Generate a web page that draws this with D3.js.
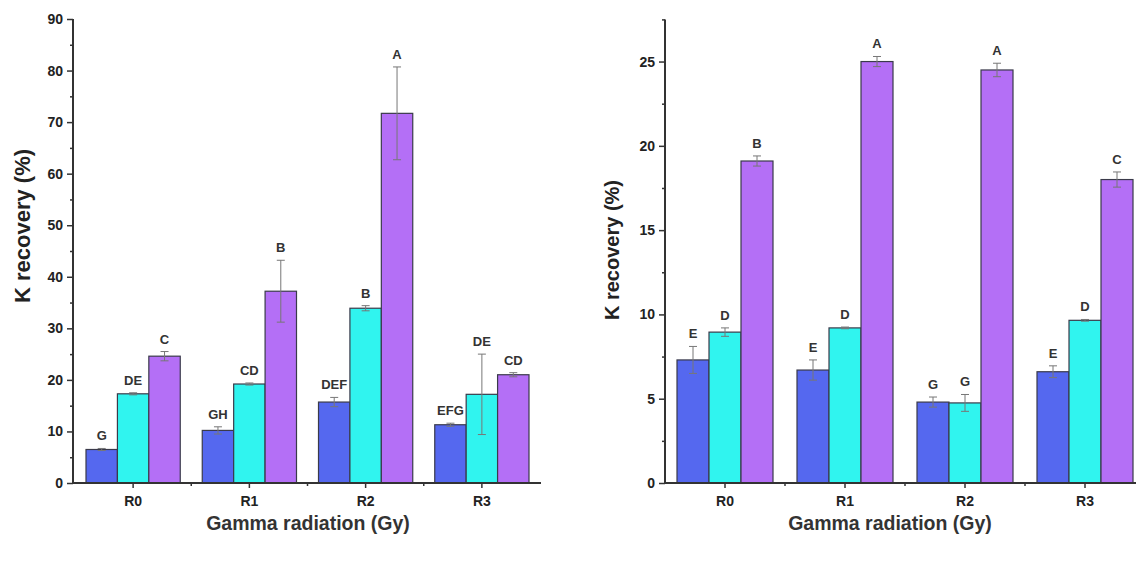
<!DOCTYPE html>
<html>
<head>
<meta charset="utf-8">
<script src="https://cdn.jsdelivr.net/npm/d3@7"></script>
<style>
  body { margin: 0; background: #fff; }
  svg text { font-family: "Liberation Sans", Arial, sans-serif; fill: #222; }
</style>
</head>
<body>
<div id="chart"></div>
<script>
var svgWidth = 1136;
var svgHeight = 563;

// categories shared by both panels
var groups = ["R0", "R1", "R2", "R3"];
var colors = ["#5568ef", "#30f4ef", "#b46ff6"];

// left panel (values per series, one entry per group)
var leftBlue = [6.5, 10.2, 15.7, 11.3];
var leftCyan = [17.3, 19.2, 33.9, 17.2];
var leftPurple = [24.6, 37.2, 71.7, 21.0];
var leftBlueErr = [0.2, 0.7, 0.9, 0.3];
var leftCyanErr = [0.2, 0.2, 0.5, 7.8];
var leftPurpleErr = [0.9, 6.0, 9.0, 0.4];
var leftBlueLetters = ["G", "GH", "DEF", "EFG"];
var leftCyanLetters = ["DE", "CD", "B", "DE"];
var leftPurpleLetters = ["C", "B", "A", "CD"];
var leftTicks = [0, 10, 20, 30, 40, 50, 60, 70, 80, 90];
var leftMinor = [5, 15, 25, 35, 45, 55, 65, 75, 85];

// right panel
var rightBlue = [7.3, 6.7, 4.8, 6.6];
var rightCyan = [8.95, 9.2, 4.75, 9.65];
var rightPurple = [19.1, 25.0, 24.5, 18.0];
var rightBlueErr = [0.8, 0.6, 0.3, 0.35];
var rightCyanErr = [0.25, 0.05, 0.5, 0.05];
var rightPurpleErr = [0.3, 0.3, 0.4, 0.45];
var rightBlueLetters = ["E", "E", "G", "E"];
var rightCyanLetters = ["D", "D", "G", "D"];
var rightPurpleLetters = ["B", "A", "A", "C"];
var rightTicks = [0, 5, 10, 15, 20, 25];
var rightMinor = [2.5, 7.5, 12.5, 17.5, 22.5, 27.5];

var svg = d3.select("#chart")
    .append("svg")
    .attr("width", svgWidth)
    .attr("height", svgHeight);

function drawPanel(opt) {
    var g = svg.append("g");

    // build rows from the small arrays
    var rows = [];
    groups.forEach((grp, i) => {
        opt.values.forEach((vals, s) => {
            rows.push({
                group: grp,
                series: s,
                value: vals[i],
                err: opt.errs[s][i],
                letter: opt.letters[s][i]
            });
        });
    });

    var x = d3.scaleBand()
        .domain(groups)
        .range(opt.xRange);

    var xInner = d3.scaleBand()
        .domain([0, 1, 2])
        .range([opt.pad, x.bandwidth() - opt.pad]);

    var y = d3.scaleLinear()
        .domain(opt.yDomain)
        .range(opt.yRange);

    // bars
    g.selectAll("rect.bar")
        .data(rows)
        .enter()
        .append("rect")
        .attr("class", "bar")
        .attr("x", d => x(d.group) + xInner(d.series))
        .attr("y", d => y(d.value))
        .attr("width", xInner.bandwidth())
        .attr("height", d => y(0) - y(d.value))
        .attr("fill", d => colors[d.series])
        .attr("stroke", "#3a3a4a")
        .attr("stroke-width", 1.2);

    // error bars
    var cx = d => x(d.group) + xInner(d.series) + xInner.bandwidth() / 2;
    var eb = g.selectAll("g.err")
        .data(rows)
        .enter()
        .append("g")
        .attr("class", "err")
        .attr("stroke", "#777")
        .attr("stroke-width", 1);
    eb.append("line")
        .attr("x1", cx).attr("x2", cx)
        .attr("y1", d => y(d.value + d.err))
        .attr("y2", d => y(d.value - d.err));
    eb.append("line")
        .attr("x1", d => cx(d) - 4).attr("x2", d => cx(d) + 4)
        .attr("y1", d => y(d.value + d.err))
        .attr("y2", d => y(d.value + d.err));
    eb.append("line")
        .attr("x1", d => cx(d) - 4).attr("x2", d => cx(d) + 4)
        .attr("y1", d => y(d.value - d.err))
        .attr("y2", d => y(d.value - d.err));

    // significance letters
    g.selectAll("text.letter")
        .data(rows)
        .enter()
        .append("text")
        .attr("class", "letter")
        .attr("x", cx)
        .attr("y", d => y(d.value + d.err) - 8)
        .attr("text-anchor", "middle")
        .style("font-size", "13px")
        .style("font-weight", "bold")
        .style("fill", "#333")
        .text(d => d.letter);

    // y axis
    var yAxis = g.append("g")
        .attr("transform", `translate(${opt.xAxisStart}, 0)`)
        .call(d3.axisLeft(y).tickValues(opt.ticks).tickSize(6).tickSizeOuter(0).tickPadding(4));
    g.append("g")
        .attr("transform", `translate(${opt.xAxisStart}, 0)`)
        .call(d3.axisLeft(y).tickValues(opt.minor).tickSize(3).tickSizeOuter(0).tickFormat(""))
        .select(".domain").remove();
    yAxis.select(".domain")
        .attr("d", `M0,${y(0)}V${opt.yRange[1]}`);

    // x axis
    var xAxis = g.append("g")
        .attr("transform", `translate(0, ${y(0)})`)
        .call(d3.axisBottom(x).tickSize(5).tickSizeOuter(0).tickPadding(8));
    xAxis.select(".domain")
        .attr("d", `M${opt.xAxisStart},0H${opt.xAxisEnd}`);
    xAxis.selectAll(".minor")
        .data(groups.slice(1))
        .enter()
        .append("line")
        .attr("class", "minor")
        .attr("x1", d => x(d)).attr("x2", d => x(d))
        .attr("y1", 0).attr("y2", 3)
        .attr("stroke", "#333")
        .attr("stroke-width", 1.5);

    g.selectAll(".domain").attr("stroke", "#333").attr("stroke-width", 2);
    g.selectAll(".tick line").attr("stroke", "#333").attr("stroke-width", 1.5);
    g.selectAll(".tick text")
        .style("font-size", "14px")
        .style("font-weight", "bold")
        .style("fill", "#222");

    // axis titles
    g.append("text")
        .attr("transform", `translate(${opt.yTitle[0]}, ${opt.yTitle[1]}) rotate(-90)`)
        .attr("text-anchor", "middle")
        .style("font-size", opt.yTitleSize)
        .style("font-weight", "bold")
        .text("K recovery (%)");

    g.append("text")
        .attr("x", opt.xTitle[0])
        .attr("y", opt.xTitle[1])
        .attr("text-anchor", "middle")
        .style("font-size", "19.5px")
        .style("font-weight", "bold")
        .style("fill", "#333")
        .text("Gamma radiation (Gy)");
}

drawPanel({
    values: [leftBlue, leftCyan, leftPurple],
    errs: [leftBlueErr, leftCyanErr, leftPurpleErr],
    letters: [leftBlueLetters, leftCyanLetters, leftPurpleLetters],
    ticks: leftTicks,
    minor: leftMinor,
    xRange: [75, 540],
    pad: 11,
    xAxisStart: 73,
    xAxisEnd: 541,
    yDomain: [0, 90],
    yRange: [483, 19],
    yTitle: [30, 226],
    yTitleSize: "22px",
    xTitle: [308, 530]
});

drawPanel({
    values: [rightBlue, rightCyan, rightPurple],
    errs: [rightBlueErr, rightCyanErr, rightPurpleErr],
    letters: [rightBlueLetters, rightCyanLetters, rightPurpleLetters],
    ticks: rightTicks,
    minor: rightMinor,
    xRange: [665, 1145],
    pad: 12,
    xAxisStart: 665,
    xAxisEnd: 1136,
    yDomain: [0, 27.5],
    yRange: [483, 19.4],
    yTitle: [619, 250],
    yTitleSize: "20px",
    xTitle: [890, 530]
});
</script>
</body>
</html>
